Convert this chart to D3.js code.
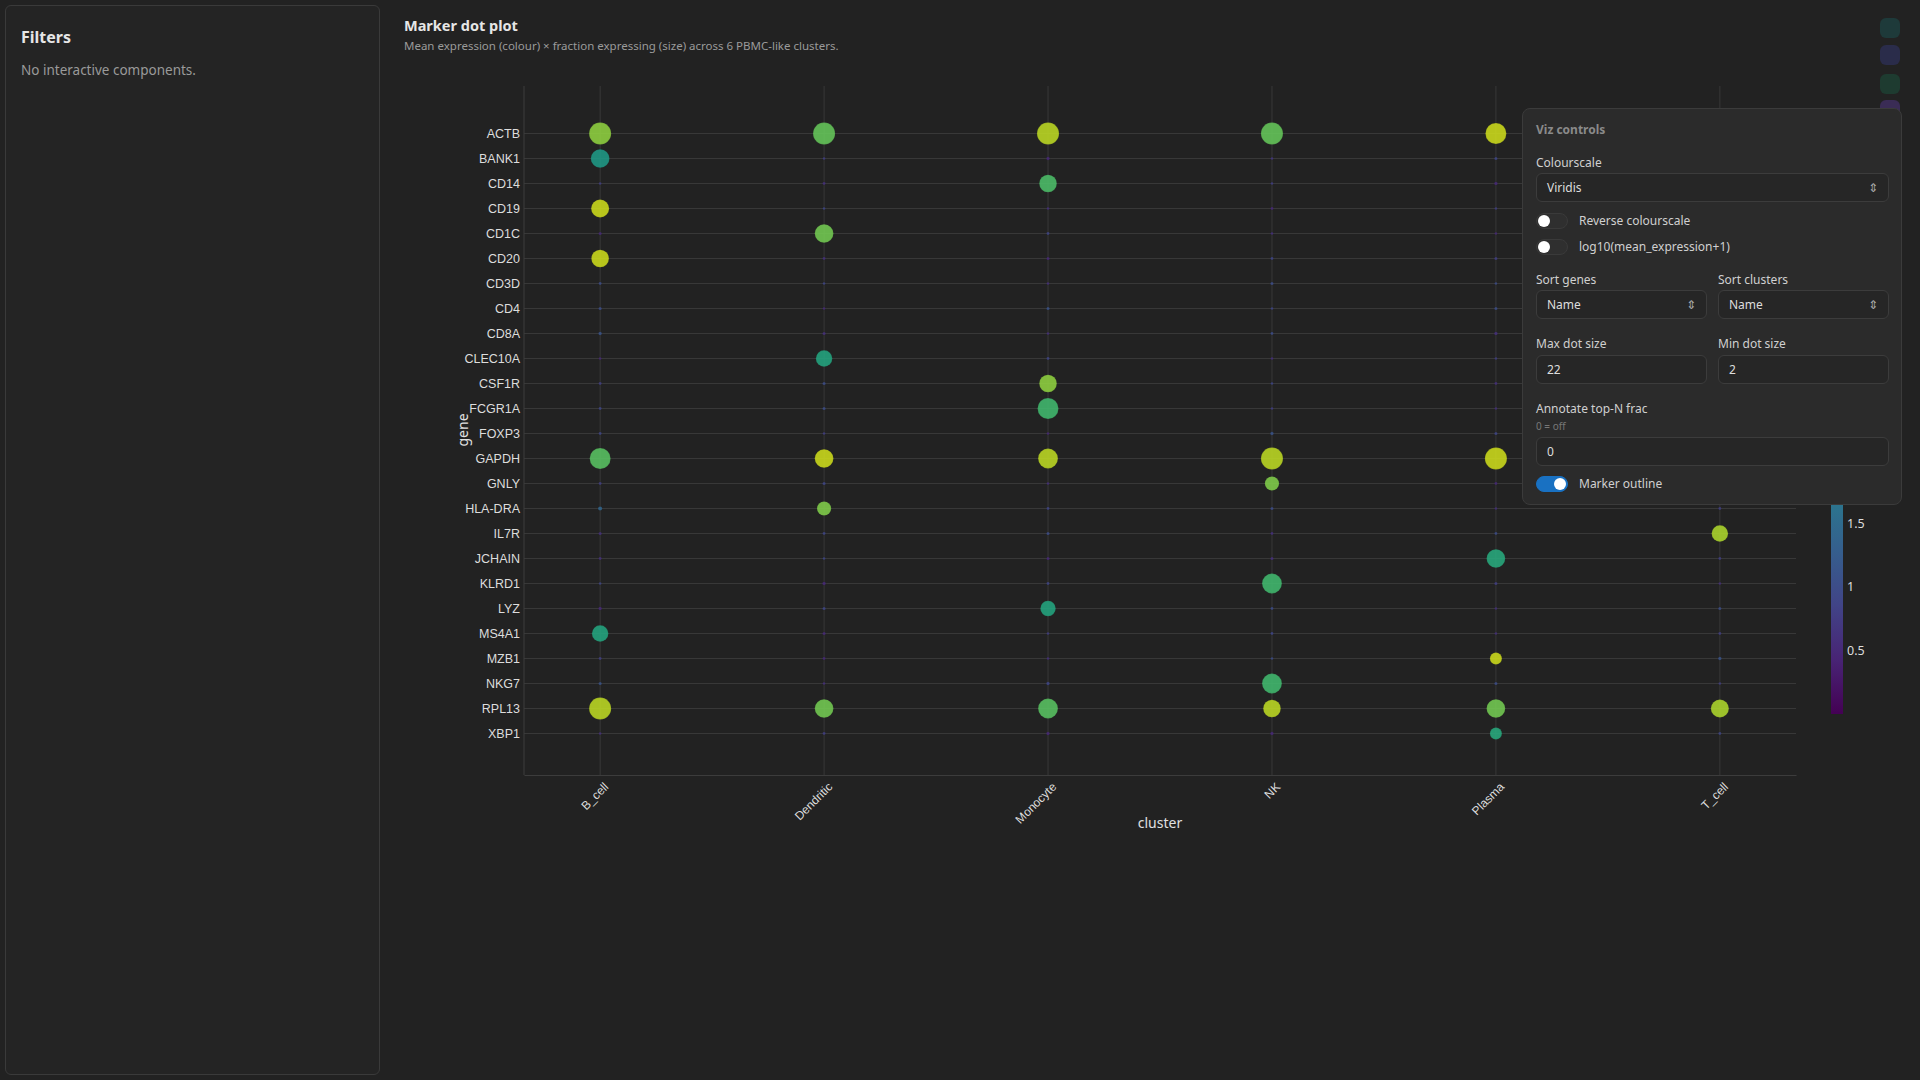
<!DOCTYPE html>
<html>
<head>
<meta charset="utf-8">
<script src="https://cdn.jsdelivr.net/npm/d3@7"></script>
<style>
  body { margin: 0; background: #222222; font-family: "Noto Sans", "DejaVu Sans", sans-serif; overflow: hidden; }
  #sidebar { position: absolute; left: 5px; top: 5px; width: 373px; height: 1068px; border: 1px solid #3a3a3a; border-radius: 6px; background: #242424; }
  #sidebar h3 { margin: 0; position: absolute; left: 15px; top: 20px; font-size: 16px; color: #e6e6e6; }
  #sidebar p { margin: 0; position: absolute; left: 15px; top: 55px; font-size: 13.5px; color: #9a9a9a; }
  #chart { position: absolute; left: 0; top: 0; }
  #panel { position: absolute; left: 1522px; top: 108px; width: 378px; height: 395px; background: #2b2b2b; border: 1px solid #3b3b3b; border-radius: 8px; color: #cfcfcf; font-size: 12px; }
  #panel .lbl { position: absolute; font-size: 12px; color: #d0d0d0; }
  #panel .box { position: absolute; border: 1px solid #3c3c3c; border-radius: 6px; background: #262626; height: 29px; box-sizing: border-box; padding-left: 10px; line-height: 27px; font-size: 12px; color: #ddd; }
  .tog { position: absolute; width: 30px; height: 14px; border-radius: 8px; background: #2f2f2f; border: 1px solid #3a3a3a; }
  .tog .knob { position: absolute; top: 1px; left: 1px; width: 12px; height: 12px; border-radius: 6px; background: #fff; }
  .tog.on { background: #1971c2; border-color: #1971c2; }
  .tog.on .knob { left: 17px; }
  .icon { position: absolute; left: 1880px; width: 20px; height: 20px; border-radius: 6px; }
</style>
</head>
<body>
<div id="sidebar"><h3>Filters</h3><p>No interactive components.</p></div>
<svg id="chart" width="1920" height="1080"></svg>

<div class="icon" style="top:18px;background:#1e3a3a"></div>
<div class="icon" style="top:45px;background:#2a2c4a"></div>
<div class="icon" style="top:74px;background:#1e3b30"></div>
<div class="icon" style="top:100px;background:#3a2c55"></div>

<div id="panel">
  <div class="lbl" style="left:13px;top:12px;color:#8a8a8a;font-weight:bold">Viz controls</div>
  <div class="lbl" style="left:13px;top:45px">Colourscale</div>
  <div class="box" style="left:13px;top:64px;width:353px">Viridis<span style="position:absolute;right:10px;color:#aaa">⇕</span></div>
  <div class="tog" style="left:13px;top:104px"><div class="knob"></div></div>
  <div class="lbl" style="left:56px;top:103px">Reverse colourscale</div>
  <div class="tog" style="left:13px;top:130px"><div class="knob"></div></div>
  <div class="lbl" style="left:56px;top:129px">log10(mean_expression+1)</div>
  <div class="lbl" style="left:13px;top:162px">Sort genes</div>
  <div class="lbl" style="left:195px;top:162px">Sort clusters</div>
  <div class="box" style="left:13px;top:181px;width:171px">Name<span style="position:absolute;right:10px;color:#aaa">⇕</span></div>
  <div class="box" style="left:195px;top:181px;width:171px">Name<span style="position:absolute;right:10px;color:#aaa">⇕</span></div>
  <div class="lbl" style="left:13px;top:226px">Max dot size</div>
  <div class="lbl" style="left:195px;top:226px">Min dot size</div>
  <div class="box" style="left:13px;top:246px;width:171px">22</div>
  <div class="box" style="left:195px;top:246px;width:171px">2</div>
  <div class="lbl" style="left:13px;top:291px">Annotate top-N frac</div>
  <div class="lbl" style="left:13px;top:310px;font-size:10px;color:#777">0 = off</div>
  <div class="box" style="left:13px;top:328px;width:353px">0</div>
  <div class="tog on" style="left:13px;top:367px"><div class="knob"></div></div>
  <div class="lbl" style="left:56px;top:366px">Marker outline</div>
</div>

<script>
// clusters and genes
var clusters = ["B_cell", "Dendritic", "Monocyte", "NK", "Plasma", "T_cell"];
var genes = ["ACTB", "BANK1", "CD14", "CD19", "CD1C", "CD20", "CD3D", "CD4", "CD8A", "CLEC10A",
  "CSF1R", "FCGR1A", "FOXP3", "GAPDH", "GNLY", "HLA-DRA", "IL7R", "JCHAIN", "KLRD1", "LYZ",
  "MS4A1", "MZB1", "NKG7", "RPL13", "XBP1"];

// mean expression per gene (rows) x cluster (columns)
var meanExpr = [
  [3.6, 3.3, 3.9, 3.3, 4.0, 3.7],
  [2.4, 0.8, 0.5, 0.7, 0.9, 0.8],
  [0.8, 0.6, 3.1, 0.8, 0.5, 0.7],
  [4.0, 0.9, 0.6, 0.5, 0.8, 0.6],
  [0.5, 3.4, 0.9, 0.6, 0.5, 0.7],
  [4.0, 0.6, 0.5, 0.9, 0.8, 0.8],
  [1.0, 0.9, 0.6, 1.0, 1.0, 4.0],
  [1.0, 0.5, 1.1, 0.9, 1.0, 3.0],
  [1.1, 0.6, 0.6, 1.0, 0.6, 3.2],
  [0.5, 2.6, 0.9, 0.6, 0.8, 0.7],
  [0.8, 1.0, 3.6, 0.9, 0.6, 0.8],
  [0.9, 1.0, 3.0, 0.8, 0.6, 0.5],
  [0.9, 0.8, 0.5, 1.1, 0.9, 2.5],
  [3.2, 4.0, 3.9, 3.9, 4.0, 3.8],
  [0.8, 0.9, 0.6, 3.5, 0.5, 2.8],
  [1.4, 3.5, 0.9, 1.0, 0.6, 0.8],
  [0.6, 0.9, 1.0, 0.6, 1.0, 3.8],
  [0.6, 0.9, 0.5, 0.6, 2.7, 0.8],
  [0.9, 0.5, 0.9, 3.0, 0.8, 0.6],
  [0.5, 0.9, 2.6, 1.0, 0.6, 1.0],
  [2.6, 0.5, 0.8, 0.9, 0.6, 0.8],
  [0.8, 0.5, 0.6, 1.0, 4.0, 1.1],
  [1.1, 0.6, 0.9, 3.0, 1.0, 0.8],
  [3.9, 3.4, 3.2, 3.9, 3.4, 3.8],
  [0.6, 0.8, 0.5, 0.5, 2.7, 0.9]
];

// fraction of cells expressing
var fracExpr = [
  [0.90, 0.90, 0.90, 0.90, 0.85, 0.90],
  [0.75, 0.03, 0.06, 0.03, 0.05, 0.04],
  [0.03, 0.04, 0.70, 0.03, 0.06, 0.03],
  [0.72, 0.03, 0.03, 0.04, 0.03, 0.04],
  [0.05, 0.75, 0.04, 0.03, 0.03, 0.04],
  [0.70, 0.04, 0.05, 0.04, 0.05, 0.03],
  [0.04, 0.03, 0.03, 0.05, 0.03, 0.85],
  [0.05, 0.03, 0.05, 0.03, 0.05, 0.60],
  [0.06, 0.05, 0.03, 0.04, 0.06, 0.55],
  [0.03, 0.65, 0.04, 0.03, 0.03, 0.04],
  [0.04, 0.05, 0.70, 0.03, 0.04, 0.03],
  [0.04, 0.05, 0.85, 0.03, 0.03, 0.04],
  [0.04, 0.03, 0.03, 0.06, 0.05, 0.30],
  [0.85, 0.75, 0.80, 0.90, 0.90, 0.90],
  [0.04, 0.05, 0.03, 0.55, 0.04, 0.40],
  [0.10, 0.55, 0.04, 0.05, 0.03, 0.04],
  [0.05, 0.04, 0.05, 0.04, 0.04, 0.65],
  [0.04, 0.03, 0.05, 0.05, 0.75, 0.04],
  [0.03, 0.06, 0.04, 0.80, 0.05, 0.03],
  [0.06, 0.05, 0.60, 0.04, 0.03, 0.05],
  [0.65, 0.05, 0.03, 0.04, 0.03, 0.04],
  [0.04, 0.04, 0.03, 0.03, 0.45, 0.06],
  [0.05, 0.03, 0.06, 0.80, 0.05, 0.03],
  [0.90, 0.75, 0.80, 0.70, 0.75, 0.72],
  [0.03, 0.04, 0.06, 0.06, 0.45, 0.04]
];

var colorTicks = [0.5, 1, 1.5, 2, 2.5, 3, 3.5, 4];

var plot = { left: 524, right: 1796, top: 86, bottom: 775 };
var svg = d3.select("#chart");

// titles
svg.append("text").attr("x", 404).attr("y", 31).attr("fill", "#e6e6e6")
  .attr("font-size", 14.5).attr("font-weight", "bold").text("Marker dot plot");
svg.append("text").attr("x", 404).attr("y", 50).attr("fill", "#9a9a9a")
  .attr("font-size", 11.5).text("Mean expression (colour) × fraction expressing (size) across 6 PBMC-like clusters.");

var x = d3.scalePoint().domain(clusters).range([plot.left, plot.right]).padding(0.34);
var y = d3.scalePoint().domain(genes).range([plot.top + 3, plot.bottom + 3]).padding(1.78);
var cmax = 4.3;
var color = d3.scaleSequential(d3.interpolateViridis).domain([0, cmax]);
var maxFrac = d3.max(fracExpr.flat());
var size = d3.scaleLinear().domain([0, maxFrac]).range([2, 22]);

// grid
svg.append("g").selectAll("line").data(genes).join("line")
  .attr("x1", plot.left).attr("x2", plot.right)
  .attr("y1", d => y(d)).attr("y2", d => y(d))
  .attr("stroke", "#383838").attr("stroke-width", 1);
svg.append("g").selectAll("line").data(clusters).join("line")
  .attr("y1", plot.top).attr("y2", plot.bottom)
  .attr("x1", d => x(d)).attr("x2", d => x(d))
  .attr("stroke", "#383838").attr("stroke-width", 1);

// axes
var yAxis = svg.append("g").attr("transform", `translate(${plot.left},0)`)
  .call(d3.axisLeft(y).tickSize(0).tickPadding(4));
yAxis.select(".domain").attr("d", `M0,${plot.top}V${plot.bottom}`).attr("stroke", "#3c3c3c");
yAxis.selectAll("text").attr("fill", "#dddddd").attr("font-size", 12.5)
  .attr("font-family", "Liberation Sans, sans-serif");

var xAxis = svg.append("g").attr("transform", `translate(0,${plot.bottom})`)
  .call(d3.axisBottom(x).tickSize(0).tickPadding(8));
xAxis.select(".domain").attr("stroke", "#3c3c3c");
xAxis.selectAll("text").attr("fill", "#dddddd").attr("font-size", 12)
  .attr("font-family", "Liberation Sans, sans-serif")
  .attr("text-anchor", "end").attr("dy", "0.35em")
  .attr("transform", "translate(0,4) rotate(-45)");

svg.append("text").attr("x", (plot.left + plot.right) / 2).attr("y", 828)
  .attr("text-anchor", "middle").attr("fill", "#e0e0e0").attr("font-size", 14).text("cluster");
svg.append("text").attr("transform", "translate(468,430) rotate(-90)")
  .attr("text-anchor", "middle").attr("fill", "#e0e0e0").attr("font-size", 14).text("gene");

// dots
var cells = [];
genes.forEach((g, i) => clusters.forEach((c, j) => {
  cells.push({ gene: g, cluster: c, mean: meanExpr[i][j], frac: fracExpr[i][j] });
}));
svg.append("g").selectAll("circle").data(cells).join("circle")
  .attr("cx", d => x(d.cluster)).attr("cy", d => y(d.gene))
  .attr("r", d => size(d.frac) / 2)
  .attr("fill", d => color(d.mean)).attr("fill-opacity", 0.85)
  .attr("stroke", "rgba(30,30,30,0.3)").attr("stroke-width", 0.4);

// colour bar
var cbar = { x: 1831, w: 12, bottom: 714 };
var cy = d3.scaleLinear().domain([0, cmax]).range([cbar.bottom, cbar.bottom - 127 * cmax]);
var defs = svg.append("defs");
var grad = defs.append("linearGradient").attr("id", "vir").attr("x1", 0).attr("x2", 0).attr("y1", 1).attr("y2", 0);
d3.range(0, 1.0001, 0.1).forEach(t => grad.append("stop").attr("offset", t).attr("stop-color", d3.interpolateViridis(t)));
svg.append("rect").attr("x", cbar.x).attr("y", cy(cmax)).attr("width", cbar.w)
  .attr("height", cbar.bottom - cy(cmax)).attr("fill", "url(#vir)");
svg.append("g").selectAll("text").data(colorTicks).join("text")
  .attr("x", cbar.x + cbar.w + 4).attr("y", d => cy(d)).attr("dy", "0.35em")
  .attr("fill", "#dddddd").attr("font-size", 12.5).text(d => d);
</script>
</body>
</html>
